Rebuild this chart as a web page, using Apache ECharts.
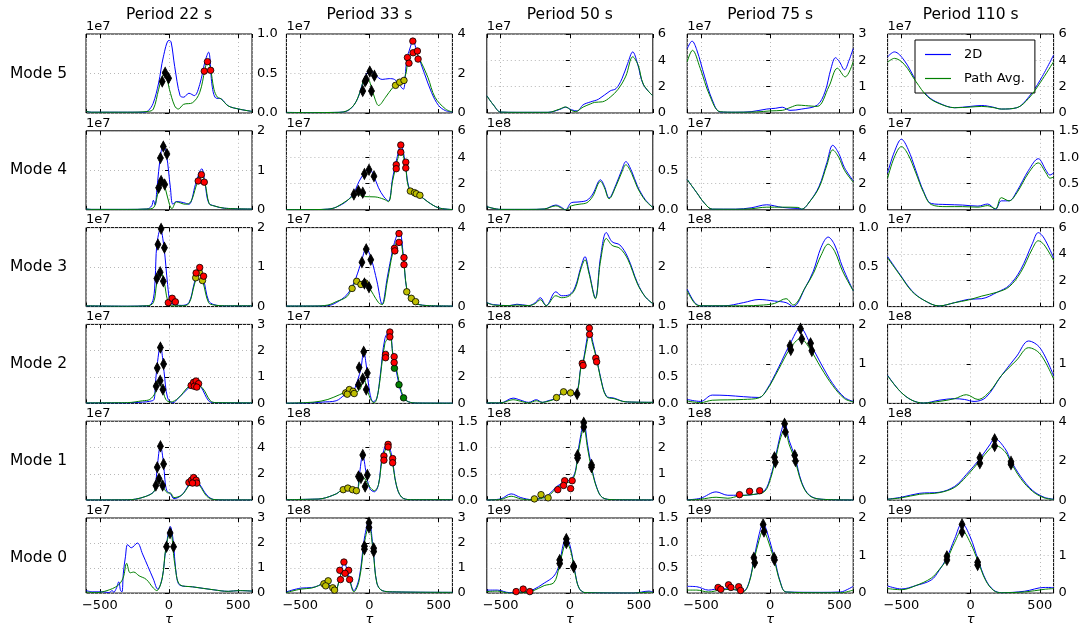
<!DOCTYPE html>
<html>
<head>
<meta charset="utf-8">
<script src="https://cdn.jsdelivr.net/npm/echarts@6/dist/echarts.min.js"></script>
<style>
  html, body { margin: 0; padding: 0; background: #fff; }
  #chart { width: 1083px; height: 627px; }
</style>
</head>
<body>
<div id="chart"></div>
<script>
// ---- labels and axes -------------------------------------------------------
const periods = ['Period 22 s', 'Period 33 s', 'Period 50 s', 'Period 75 s', 'Period 110 s'];
const modes = ['Mode 5', 'Mode 4', 'Mode 3', 'Mode 2', 'Mode 1', 'Mode 0'];
const xTicks = [-500, 0, 500];
// per row (mode 5 .. mode 0), per column (22 s .. 110 s)
const yMax  = [[1.0, 4, 6, 3, 6], [2, 6, 1.0, 6, 1.5], [2, 4, 4, 1.0, 6], [3, 6, 1.5, 2, 2], [6, 1.5, 3, 4, 4], [3, 3, 1.5, 2, 2]];
const yStep = [[0.5, 2, 2, 1, 2], [1, 2, 0.5, 2, 0.5], [1, 2, 2, 0.5, 2], [1, 2, 0.5, 1, 1], [2, 0.5, 1, 2, 2], [1, 1, 0.5, 1, 1]];
const yExp  = [[7, 7, 7, 7, 7], [7, 7, 8, 7, 7], [7, 7, 7, 8, 7], [7, 7, 8, 8, 8], [7, 8, 8, 8, 8], [7, 8, 9, 9, 9]];

// ---- Mode 5 ----------------------------------------------------------------
const m5_p22_2d = [[-600,0.02],[-560,0.01],[-300,0.01],[-180,0.01],[-150,0.03],[-115,0.12],[-75,0.38],[-41,0.71],[0,0.92],[15,0.9],[41,0.59],[80,0.22],[106,0.2],[144,0.25],[183,0.22],[222,0.36],[260,0.65],[286,0.77],[312,0.34],[338,0.19],[376,0.18],[428,0.09],[505,0.05],[600,0.02]];
const m5_p22_pa = [[-600,0.02],[-560,0.01],[-300,0.01],[-150,0.02],[-113,0.05],[-75,0.3],[-49,0.46],[-31,0.5],[-15,0.44],[3,0.3],[41,0.09],[67,0.05],[106,0.11],[170,0.13],[222,0.26],[260,0.55],[278,0.65],[299,0.57],[325,0.3],[350,0.2],[376,0.18],[428,0.09],[505,0.05],[600,0.02]];
const m5_p22_dia = [[-49,0.40],[-28,0.51],[-3,0.44]];
const m5_p22_red = [[255,0.53],[278,0.65],[301,0.54]];

const m5_p33_2d = [[-600,0.03],[-400,0.02],[-250,0.03],[-190,0.05],[-138,0.2],[-87,0.7],[-48,1.53],[-23,1.94],[3,2.16],[41,1.94],[92,1.7],[143,1.74],[181,1.7],[219,1.4],[245,1.2],[270,2.68],[296,3.34],[314,3.67],[347,3.0],[398,2.0],[449,1.04],[500,0.38],[550,0.12],[600,0.05]];
const m5_p33_pa = [[-600,0.03],[-400,0.02],[-250,0.03],[-190,0.05],[-112,0.4],[-61,1.2],[-36,1.7],[-10,1.7],[15,1.28],[41,0.7],[66,0.38],[117,0.8],[168,1.28],[219,1.6],[258,1.85],[283,2.77],[321,3.18],[360,2.77],[423,1.8],[474,0.8],[551,0.2],[600,0.05]];
const m5_p33_dia = [[-48,1.12],[-31,1.61],[-23,1.70],[3,2.1],[36,1.89],[15,1.12]];
const m5_p33_yel = [[189,1.4],[219,1.56],[250,1.65]];
const m5_p33_red = [[275,2.81],[286,2.52],[314,3.64],[316,3.05],[347,3.14],[352,2.73]];

const m5_p50_2d = [[-600,1.31],[-551,0.6],[-500,0.07],[-382,0.05],[-157,0.05],[-73,0.27],[-31,0.44],[11,0.25],[53,0.15],[96,0.62],[152,0.85],[208,1.05],[292,1.68],[334,1.85],[377,2.6],[419,3.78],[455,4.64],[489,3.78],[531,2.17],[600,1.31]];
const m5_p50_pa = [[-600,1.31],[-551,0.6],[-500,0.07],[-382,0.05],[-157,0.05],[-73,0.3],[-31,0.46],[11,0.2],[39,0.1],[96,0.45],[152,0.7],[180,0.81],[236,0.85],[292,1.2],[349,1.8],[405,2.8],[455,4.27],[495,3.6],[531,2.2],[600,1.3]];

const m5_p75_2d = [[-600,2.44],[-565,2.73],[-531,2.4],[-475,1.4],[-419,0.5],[-362,0.04],[-250,0.03],[-138,0.05],[-25,0.15],[40,0.18],[87,0.22],[143,0.1],[228,0.15],[340,0.3],[396,0.8],[440,1.7],[472,2.1],[500,1.95],[537,1.64],[570,2.0],[600,2.45]];
const m5_p75_pa = [[-600,1.95],[-562,2.38],[-506,1.7],[-440,0.7],[-362,0.05],[-250,0.03],[-100,0.04],[0,0.08],[87,0.1],[150,0.22],[200,0.3],[256,0.28],[340,0.25],[424,1.0],[486,1.7],[542,1.37],[600,1.95]];

const m5_p110_2d = [[-600,4.27],[-551,4.64],[-480,4.0],[-396,2.5],[-312,1.3],[-228,0.75],[-115,0.4],[-3,0.5],[81,0.57],[160,0.45],[222,0.3],[334,0.4],[419,1.2],[503,2.5],[600,4.4]];
const m5_p110_pa = [[-600,3.85],[-551,4.15],[-480,3.7],[-396,2.4],[-312,1.25],[-228,0.72],[-115,0.4],[-3,0.45],[81,0.5],[160,0.42],[222,0.3],[334,0.4],[419,1.1],[503,2.3],[600,3.9]];

// ---- Mode 4 ----------------------------------------------------------------
const m4_p22_2d = [[-600,0.02],[-560,0.01],[-300,0.01],[-160,0.02],[-125,0.1],[-113,0.24],[-100,0.12],[-88,0.5],[-75,0.97],[-57,1.47],[-41,1.64],[-18,1.39],[10,0.56],[28,0.14],[54,0.21],[106,0.18],[144,0.14],[191,0.64],[222,0.97],[237,1.04],[260,0.68],[286,0.18],[325,0.1],[402,0.04],[600,0.02]];
const m4_p22_pa = [[-600,0.02],[-560,0.01],[-300,0.01],[-160,0.02],[-113,0.05],[-88,0.3],[-67,0.68],[-49,0.77],[-28,0.56],[3,0.14],[21,0.03],[54,0.2],[119,0.14],[157,0.2],[196,0.6],[229,0.93],[260,0.68],[291,0.15],[325,0.1],[402,0.04],[600,0.02]];
const m4_p22_dia = [[-62,1.31],[-41,1.6],[-15,1.41],[-75,0.56],[-57,0.73],[-31,0.64]];
const m4_p22_red = [[211,0.73],[234,0.89],[255,0.70]];

const m4_p33_2d = [[-600,0.02],[-400,0.02],[-300,0.05],[-240,0.2],[-163,0.67],[-112,1.3],[-74,2.17],[-36,2.8],[-3,3.17],[28,2.67],[66,1.67],[105,0.98],[138,0.67],[168,2.42],[199,3.92],[227,4.92],[258,3.67],[283,1.8],[321,1.3],[360,1.12],[423,0.6],[500,0.15],[600,0.02]];
const m4_p33_pa = [[-600,0.02],[-400,0.02],[-300,0.05],[-240,0.2],[-163,0.7],[-87,1.17],[-36,1.0],[41,0.98],[105,0.8],[138,0.62],[168,2.2],[199,3.6],[227,4.55],[258,3.5],[283,1.7],[321,1.3],[360,1.1],[423,0.6],[500,0.15],[600,0.02]];
const m4_p33_dia = [[-112,1.17],[-79,1.42],[-48,1.3],[-36,2.72],[-3,3.05],[33,2.55]];
const m4_p33_red = [[194,3.42],[194,3.12],[227,4.92],[227,4.37],[263,3.62],[263,3.17]];
const m4_p33_yel = [[296,1.42],[326,1.3],[339,1.22],[365,1.1]];

const m4_p50_2d = [[-600,0.04],[-500,0.005],[-300,0.005],[-185,0.01],[-101,0.06],[-59,0.03],[-31,0.0],[11,0.09],[67,0.1],[124,0.12],[166,0.2],[222,0.38],[250,0.3],[284,0.15],[334,0.32],[377,0.51],[405,0.61],[447,0.49],[489,0.3],[545,0.13],[600,0.03]];
const m4_p50_pa = [[-600,0.04],[-500,0.005],[-300,0.005],[-185,0.01],[-101,0.05],[-59,0.02],[-31,0.0],[11,0.05],[67,0.07],[124,0.09],[166,0.17],[222,0.36],[250,0.28],[284,0.14],[334,0.3],[377,0.48],[405,0.57],[447,0.46],[489,0.28],[545,0.12],[600,0.03]];

const m4_p75_2d = [[-600,2.3],[-531,1.3],[-475,0.5],[-419,0.05],[-250,0.05],[-138,0.15],[-25,0.38],[87,0.18],[200,0.1],[228,0.05],[284,0.6],[354,1.8],[410,3.6],[452,4.9],[495,4.3],[537,3.2],[600,2.2]];
const m4_p75_pa = [[-600,2.3],[-531,1.3],[-475,0.5],[-419,0.05],[-250,0.04],[-138,0.08],[-25,0.2],[87,0.2],[200,0.18],[228,0.05],[284,0.6],[354,1.7],[410,3.4],[452,4.55],[495,4.0],[537,3.0],[600,2.1]];

const m4_p110_2d = [[-600,0.7],[-551,1.1],[-500,1.34],[-452,1.15],[-396,0.75],[-340,0.35],[-284,0.12],[-171,0.1],[-59,0.09],[53,0.07],[124,0.11],[180,0.01],[222,0.17],[278,0.17],[334,0.35],[419,0.75],[489,0.97],[545,0.75],[573,0.66],[600,0.7]];
const m4_p110_pa = [[-600,0.6],[-551,1.0],[-500,1.2],[-452,1.05],[-396,0.7],[-340,0.33],[-284,0.1],[-171,0.06],[-59,0.06],[53,0.05],[124,0.08],[180,0.02],[222,0.23],[278,0.17],[334,0.32],[419,0.7],[489,0.89],[545,0.7],[573,0.6],[600,0.62]];

// ---- Mode 3 ----------------------------------------------------------------
const m3_p22_2d = [[-600,0.02],[-300,0.01],[-160,0.02],[-139,0.03],[-113,0.2],[-100,0.7],[-88,1.56],[-62,1.97],[-36,1.49],[-10,0.56],[10,0.1],[41,0.05],[93,0.03],[144,0.1],[183,0.6],[216,0.97],[247,0.73],[286,0.15],[325,0.05],[400,0.02],[600,0.02]];
const m3_p22_pa = [[-600,0.02],[-300,0.01],[-160,0.02],[-113,0.1],[-88,0.6],[-62,0.89],[-36,0.64],[-10,0.15],[15,0.02],[93,0.02],[144,0.08],[183,0.55],[216,0.89],[247,0.6],[286,0.1],[325,0.04],[400,0.02],[600,0.02]];
const m3_p22_dia = [[-80,1.57],[-57,1.97],[-33,1.49],[-88,0.71],[-64,0.87],[-41,0.64]];
const m3_p22_red = [[-5,0.1],[23,0.21],[46,0.12],[196,0.85],[222,0.99],[250,0.77]];
const m3_p22_yel = [[193,0.73],[219,0.87],[242,0.66]];

const m3_p33_2d = [[-600,0.03],[-400,0.03],[-300,0.05],[-240,0.2],[-163,0.6],[-112,1.2],[-61,2.2],[-23,2.95],[15,2.37],[54,1.3],[92,0.12],[130,1.5],[168,2.87],[199,3.62],[219,3.78],[245,2.62],[270,0.87],[309,0.25],[347,0.12],[423,0.05],[600,0.03]];
const m3_p33_pa = [[-600,0.03],[-400,0.03],[-300,0.08],[-240,0.25],[-163,0.5],[-125,0.95],[-87,1.32],[-48,1.2],[-10,1.03],[28,0.62],[66,0.2],[92,0.1],[130,1.3],[168,2.7],[199,3.28],[219,3.37],[245,2.5],[270,0.9],[300,0.3],[347,0.12],[423,0.05],[600,0.03]];
const m3_p33_yel = [[-125,0.92],[-92,1.28],[-61,1.12],[-31,1.2],[270,0.75],[303,0.42],[334,0.25]];
const m3_p33_dia = [[-54,2.25],[-23,2.9],[10,2.37],[-36,1.17],[-3,0.98]];
const m3_p33_red = [[181,2.95],[184,2.82],[214,3.7],[214,3.25],[250,2.48],[250,2.12]];

const m3_p50_2d = [[-600,0.2],[-551,0.1],[-438,0.05],[-382,0.12],[-298,0.05],[-250,0.2],[-213,0.45],[-171,0.05],[-101,0.75],[-59,0.55],[-3,0.6],[39,1.0],[80,2.0],[110,2.53],[138,1.8],[185,0.45],[222,2.5],[264,3.75],[306,3.28],[362,3.12],[419,2.5],[489,1.2],[545,0.5],[600,0.15]];
const m3_p50_pa = [[-600,0.2],[-551,0.08],[-438,0.05],[-382,0.08],[-298,0.05],[-250,0.15],[-213,0.35],[-171,0.05],[-101,0.55],[-59,0.45],[-3,0.55],[39,0.9],[80,1.9],[110,2.37],[138,1.7],[185,0.4],[222,2.3],[264,3.45],[306,3.1],[362,2.95],[419,2.4],[489,1.15],[545,0.5],[600,0.15]];

const m3_p75_2d = [[-600,0.22],[-545,0.05],[-503,0.01],[-334,0.01],[-194,0.05],[-81,0.09],[31,0.07],[115,0.05],[166,0.0],[256,0.25],[312,0.45],[368,0.75],[419,0.88],[466,0.78],[523,0.5],[600,0.2]];
const m3_p75_pa = [[-600,0.2],[-545,0.04],[-503,0.01],[-334,0.01],[-194,0.01],[-50,0.02],[31,0.04],[115,0.1],[166,0.02],[256,0.25],[312,0.42],[368,0.65],[419,0.79],[466,0.7],[523,0.45],[600,0.2]];

const m3_p110_2d = [[-600,3.8],[-508,2.4],[-424,1.2],[-340,0.5],[-228,0.05],[-115,0.3],[-17,0.55],[81,0.6],[194,1.1],[278,1.6],[362,2.8],[447,4.8],[489,5.62],[531,5.2],[600,3.7]];
const m3_p110_pa = [[-600,3.7],[-508,2.35],[-424,1.15],[-340,0.5],[-228,0.05],[-115,0.3],[-17,0.5],[81,0.8],[194,1.1],[278,1.5],[362,2.6],[447,4.4],[489,5.0],[531,4.7],[600,3.5]];

// ---- Mode 2 ----------------------------------------------------------------
const m2_p22_2d = [[-600,0.02],[-300,0.02],[-191,0.05],[-139,0.08],[-108,0.15],[-100,0.6],[-88,1.34],[-62,2.19],[-36,1.21],[-10,0.21],[28,0.02],[67,0.2],[144,0.6],[191,0.84],[234,0.6],[286,0.1],[325,0.03],[600,0.02]];
const m2_p22_pa = [[-600,0.02],[-300,0.03],[-191,0.1],[-139,0.15],[-100,0.4],[-75,0.86],[-49,0.59],[-23,0.15],[10,0.05],[67,0.2],[144,0.65],[196,0.74],[247,0.55],[299,0.1],[340,0.03],[600,0.02]];
const m2_p22_dia = [[-85,1.34],[-62,2.12],[-39,1.5],[-93,0.65],[-64,0.86],[-44,0.53]];
const m2_p22_red = [[160,0.68],[178,0.8],[196,0.85],[214,0.75],[183,0.65],[201,0.62]];

const m2_p33_2d = [[-600,0.02],[-400,0.05],[-342,0.1],[-240,0.2],[-176,0.65],[-125,0.8],[-87,1.7],[-61,2.67],[-41,3.97],[-23,2.92],[3,0.8],[28,0.12],[54,0.4],[79,2.2],[112,4.92],[148,5.55],[168,3.92],[189,2.8],[214,1.42],[245,0.47],[283,0.12],[347,0.03],[600,0.02]];
const m2_p33_pa = [[-600,0.02],[-400,0.1],[-300,0.3],[-214,0.67],[-150,0.92],[-99,0.87],[-66,1.1],[-41,1.92],[-15,1.0],[15,0.2],[36,0.05],[66,1.0],[112,4.55],[148,5.05],[173,3.4],[194,2.72],[219,1.42],[250,0.42],[283,0.12],[347,0.03],[600,0.02]];
const m2_p33_yel = [[-171,0.8],[-145,1.05],[-118,0.92],[-160,0.7],[-110,0.75]];
const m2_p33_dia = [[-74,2.72],[-41,3.92],[-15,2.3],[-79,1.42],[-48,1.88],[-23,1.05]];
const m2_p33_red = [[117,3.72],[117,3.47],[148,5.42],[148,5.05],[179,3.55],[179,3.1]];
const m2_p33_grn = [[181,2.67],[214,1.42],[247,0.42]];

const m2_p50_2d = [[-600,0.01],[-500,0.01],[-410,0.1],[-354,0.06],[-298,0.02],[-242,0.07],[-199,0.02],[-157,0.05],[-101,0.1],[-45,0.22],[-3,0.22],[39,0.2],[60,0.3],[80,0.7],[96,0.78],[124,1.23],[143,1.43],[166,1.17],[194,0.86],[222,0.5],[264,0.14],[320,0.1],[405,0.03],[600,0.02]];
const m2_p50_pa = [[-600,0.01],[-500,0.01],[-410,0.07],[-354,0.04],[-298,0.01],[-242,0.05],[-199,0.02],[-157,0.04],[-101,0.09],[-45,0.2],[-3,0.2],[39,0.18],[60,0.28],[80,0.68],[96,0.76],[124,1.15],[143,1.33],[166,1.12],[194,0.84],[222,0.48],[264,0.13],[320,0.09],[405,0.03],[600,0.02]];
const m2_p50_yel = [[-96,0.11],[-45,0.22],[6,0.2]];
const m2_p50_dia = [[53,0.18]];
const m2_p50_red = [[90,0.76],[96,0.72],[141,1.43],[143,1.31],[188,0.86],[194,0.79]];

const m2_p75_2d = [[-600,0.1],[-503,0.05],[-419,0.21],[-306,0.2],[-194,0.17],[-81,0.15],[-25,0.35],[59,0.9],[143,1.5],[219,1.91],[284,1.55],[368,1.0],[452,0.5],[537,0.15],[600,0.05]];
const m2_p75_pa = [[-600,0.06],[-503,0.02],[-419,0.08],[-306,0.09],[-194,0.1],[-81,0.14],[-25,0.33],[59,0.85],[143,1.38],[219,1.64],[284,1.4],[368,0.9],[452,0.45],[537,0.12],[600,0.04]];
const m2_p75_dia = [[143,1.46],[149,1.35],[219,1.89],[228,1.63],[292,1.52],[301,1.33]];

const m2_p110_2d = [[-600,0.71],[-508,0.3],[-424,0.08],[-340,0.01],[-228,0.08],[-115,0.12],[-45,0.1],[25,0.05],[110,0.15],[222,0.7],[334,1.2],[419,1.58],[503,1.4],[600,0.7]];
const m2_p110_pa = [[-600,0.7],[-508,0.3],[-424,0.08],[-340,0.01],[-228,0.05],[-115,0.12],[-31,0.22],[53,0.1],[138,0.3],[222,0.7],[334,1.1],[419,1.41],[503,1.25],[600,0.62]];

// ---- Mode 1 ----------------------------------------------------------------
const m1_p22_2d = [[-600,0.02],[-300,0.03],[-242,0.08],[-165,0.3],[-113,0.6],[-100,0.9],[-85,2.5],[-62,4.17],[-39,2.75],[-30,1.6],[-15,0.7],[10,0.5],[36,0.12],[93,0.4],[144,1.2],[178,1.72],[222,1.2],[273,0.4],[325,0.05],[400,0.02],[600,0.02]];
const m1_p22_pa = [[-600,0.02],[-300,0.03],[-242,0.08],[-165,0.3],[-113,0.6],[-95,1.1],[-72,1.7],[-46,1.15],[-25,0.7],[-5,0.55],[10,0.55],[36,0.2],[93,0.4],[144,1.1],[178,1.5],[222,1.1],[273,0.3],[325,0.05],[400,0.02],[600,0.02]];
const m1_p22_dia = [[-85,2.5],[-62,4.1],[-39,2.75],[-95,1.12],[-72,1.62],[-46,1.12]];
const m1_p22_red = [[144,1.35],[162,1.52],[178,1.72],[196,1.52],[201,1.3],[170,1.3]];

const m1_p33_2d = [[-600,0.01],[-400,0.02],[-342,0.03],[-240,0.12],[-189,0.2],[-125,0.18],[-92,0.15],[-74,0.45],[-48,0.86],[-23,0.51],[3,0.22],[36,0.16],[66,0.3],[92,0.82],[130,1.09],[163,0.82],[194,0.29],[232,0.06],[296,0.01],[600,0.01]];
const m1_p33_pa = [[-600,0.01],[-400,0.02],[-342,0.03],[-240,0.12],[-189,0.2],[-125,0.18],[-92,0.17],[-61,0.45],[-36,0.42],[3,0.25],[36,0.18],[66,0.3],[92,0.75],[130,1.01],[163,0.75],[194,0.3],[232,0.06],[296,0.01],[600,0.01]];
const m1_p33_yel = [[-189,0.2],[-156,0.23],[-122,0.2],[-94,0.18]];
const m1_p33_dia = [[-79,0.45],[-48,0.86],[-15,0.48],[-61,0.42],[-31,0.26]];
const m1_p33_red = [[105,0.84],[105,0.76],[135,1.06],[135,1.01],[168,0.79],[168,0.71]];

const m1_p50_2d = [[-600,0.01],[-500,0.05],[-424,0.24],[-354,0.1],[-270,0.02],[-213,0.08],[-157,0.2],[-87,0.55],[-31,0.7],[11,0.8],[40,1.1],[56,1.71],[80,2.5],[101,2.99],[129,2.09],[157,1.27],[194,0.5],[236,0.1],[320,0.02],[600,0.01]];
const m1_p50_pa = [[-600,0.01],[-500,0.03],[-424,0.15],[-354,0.05],[-270,0.01],[-213,0.06],[-157,0.15],[-87,0.5],[-31,0.65],[11,0.72],[40,1.05],[56,1.6],[80,2.35],[101,2.78],[129,1.95],[157,1.2],[194,0.48],[236,0.1],[320,0.02],[600,0.01]];
const m1_p50_yel = [[-256,0.05],[-208,0.21],[-157,0.09]];
const m1_p50_red = [[-87,0.4],[-37,0.74],[-45,0.56],[6,0.44],[17,0.74]];
const m1_p50_dia = [[56,1.71],[56,1.6],[101,2.94],[101,2.78],[157,1.34],[157,1.25]];

const m1_p75_2d = [[-600,0.02],[-503,0.1],[-391,0.42],[-306,0.25],[-222,0.25],[-110,0.3],[-39,0.5],[3,1.2],[37,2.15],[73,3.3],[104,3.92],[138,3.0],[177,2.25],[228,0.9],[284,0.25],[368,0.05],[600,0.01]];
const m1_p75_pa = [[-600,0.01],[-503,0.05],[-391,0.15],[-306,0.1],[-222,0.22],[-110,0.3],[-39,0.45],[3,1.1],[37,2.03],[73,3.1],[104,3.58],[138,2.8],[177,2.08],[228,0.85],[284,0.23],[368,0.05],[600,0.01]];
const m1_p75_red = [[-222,0.28],[-149,0.45],[-76,0.48]];
const m1_p75_dia = [[31,2.17],[37,1.92],[104,3.87],[110,3.45],[177,2.28],[183,1.98]];

const m1_p110_2d = [[-600,0.05],[-500,0.15],[-368,0.35],[-228,0.4],[-115,0.7],[-31,1.3],[67,2.1],[138,2.8],[174,3.12],[250,2.6],[292,2.0],[362,1.2],[447,0.5],[531,0.15],[600,0.05]];
const m1_p110_pa = [[-600,0.05],[-500,0.12],[-368,0.3],[-228,0.38],[-115,0.65],[-31,1.2],[67,2.0],[138,2.6],[174,2.78],[250,2.45],[292,1.9],[362,1.1],[447,0.45],[531,0.12],[600,0.04]];
const m1_p110_dia = [[67,2.15],[67,1.87],[174,3.08],[174,2.75],[292,1.95],[292,1.82]];

// ---- Mode 0 ----------------------------------------------------------------
const m0_p22_2d = [[-600,0.1],[-551,0.05],[-474,0.05],[-435,0.02],[-410,0.1],[-400,0.03],[-380,0.2],[-363,0.45],[-350,0.1],[-340,0.05],[-330,0.8],[-315,1.45],[-299,1.94],[-273,1.81],[-229,2.0],[-191,1.56],[-152,1.06],[-113,0.56],[-82,0.16],[-49,0.6],[-23,1.75],[10,2.66],[28,2.2],[54,0.7],[80,0.31],[170,0.25],[325,0.13],[428,0.07],[505,0.1],[600,0.08]];
const m0_p22_pa = [[-600,0.04],[-526,0.02],[-448,0.1],[-371,0.3],[-332,0.6],[-306,1.19],[-281,0.81],[-255,0.84],[-216,0.69],[-165,0.55],[-113,0.2],[-88,0.1],[-49,0.6],[-23,1.8],[10,2.5],[41,1.2],[80,0.33],[170,0.25],[325,0.13],[428,0.07],[505,0.1],[600,0.08]];
const m0_p22_dia = [[-18,1.85],[8,2.4],[33,1.85]];

const m0_p33_2d = [[-600,0.05],[-495,0.2],[-418,0.22],[-367,0.3],[-316,0.5],[-278,0.2],[-252,0.05],[-214,0.6],[-184,1.25],[-150,0.7],[-112,0.1],[-74,0.6],[-36,2.2],[-3,2.91],[28,1.7],[54,0.4],[92,0.1],[168,0.05],[600,0.03]];
const m0_p33_pa = [[-600,0.02],[-495,0.16],[-418,0.2],[-367,0.3],[-316,0.4],[-278,0.25],[-252,0.02],[-189,0.87],[-150,0.6],[-112,0.05],[-74,0.5],[-36,2.0],[-3,2.71],[28,1.6],[54,0.4],[92,0.1],[168,0.05],[600,0.03]];
const m0_p33_yel = [[-329,0.37],[-298,0.49],[-316,0.29],[-265,0.21],[-252,0.12]];
const m0_p33_red = [[-214,0.91],[-184,1.24],[-150,0.91],[-209,0.54],[-176,0.79],[-143,0.54]];
const m0_p33_dia = [[-36,1.87],[-36,1.75],[-3,2.81],[-3,2.62],[31,1.79],[31,1.66]];

const m0_p50_2d = [[-600,0.06],[-523,0.06],[-438,0.01],[-326,0.02],[-270,0.06],[-185,0.2],[-115,0.34],[-79,0.55],[-45,1.0],[-25,1.11],[6,0.9],[39,0.4],[67,0.1],[110,0.01],[461,0.0],[573,0.04],[600,0.02]];
const m0_p50_pa = [[-600,0.03],[-523,0.04],[-438,0.0],[-326,0.01],[-270,0.04],[-185,0.15],[-115,0.21],[-79,0.5],[-45,0.9],[-25,1.0],[6,0.85],[39,0.38],[67,0.1],[110,0.01],[461,0.0],[573,0.02],[600,0.01]];
const m0_p50_red = [[-388,0.03],[-337,0.08],[-289,0.03]];
const m0_p50_dia = [[-73,0.66],[-73,0.59],[-25,1.08],[-25,1.0],[28,0.54],[28,0.52]];

const m0_p75_2d = [[-600,0.18],[-531,0.17],[-447,0.08],[-362,0.12],[-278,0.1],[-194,0.06],[-152,0.3],[-115,0.96],[-81,1.55],[-51,1.86],[-20,1.6],[31,0.92],[73,0.3],[115,0.03],[368,0.02],[509,0.03],[560,0.1],[600,0.18]];
const m0_p75_pa = [[-600,0.08],[-531,0.08],[-447,0.03],[-362,0.08],[-278,0.1],[-194,0.04],[-152,0.28],[-115,0.9],[-81,1.4],[-51,1.67],[-20,1.45],[31,0.85],[73,0.28],[115,0.03],[368,0.01],[509,0.01],[600,0.08]];
const m0_p75_red = [[-377,0.15],[-357,0.1],[-301,0.22],[-284,0.15],[-228,0.17],[-214,0.07]];
const m0_p75_dia = [[-118,0.94],[-112,0.81],[-51,1.83],[-45,1.64],[28,0.94],[31,0.88]];

const m0_p110_2d = [[-600,0.19],[-500,0.11],[-396,0.2],[-284,0.35],[-228,0.6],[-171,0.95],[-115,1.45],[-62,1.86],[-3,1.5],[53,0.9],[110,0.35],[166,0.08],[222,0.01],[391,0.05],[531,0.15],[600,0.15]];
const m0_p110_pa = [[-600,0.12],[-500,0.09],[-396,0.2],[-284,0.4],[-228,0.62],[-171,0.9],[-115,1.35],[-62,1.67],[-3,1.35],[53,0.85],[110,0.33],[166,0.07],[222,0.01],[391,0.03],[531,0.1],[600,0.12]];
const m0_p110_dia = [[-171,0.98],[-171,0.88],[-62,1.83],[-62,1.63],[51,0.82],[51,0.75]];

// ---- table of panels (row = mode 5 .. 0, column = period) --------------------
const panels = [
  [ {d2: m5_p22_2d, pa: m5_p22_pa, dia: m5_p22_dia, red: m5_p22_red},
    {d2: m5_p33_2d, pa: m5_p33_pa, dia: m5_p33_dia, yel: m5_p33_yel, red: m5_p33_red},
    {d2: m5_p50_2d, pa: m5_p50_pa},
    {d2: m5_p75_2d, pa: m5_p75_pa},
    {d2: m5_p110_2d, pa: m5_p110_pa} ],
  [ {d2: m4_p22_2d, pa: m4_p22_pa, dia: m4_p22_dia, red: m4_p22_red},
    {d2: m4_p33_2d, pa: m4_p33_pa, dia: m4_p33_dia, red: m4_p33_red, yel: m4_p33_yel},
    {d2: m4_p50_2d, pa: m4_p50_pa},
    {d2: m4_p75_2d, pa: m4_p75_pa},
    {d2: m4_p110_2d, pa: m4_p110_pa} ],
  [ {d2: m3_p22_2d, pa: m3_p22_pa, dia: m3_p22_dia, yel: m3_p22_yel, red: m3_p22_red},
    {d2: m3_p33_2d, pa: m3_p33_pa, dia: m3_p33_dia, yel: m3_p33_yel, red: m3_p33_red},
    {d2: m3_p50_2d, pa: m3_p50_pa},
    {d2: m3_p75_2d, pa: m3_p75_pa},
    {d2: m3_p110_2d, pa: m3_p110_pa} ],
  [ {d2: m2_p22_2d, pa: m2_p22_pa, dia: m2_p22_dia, red: m2_p22_red},
    {d2: m2_p33_2d, pa: m2_p33_pa, dia: m2_p33_dia, yel: m2_p33_yel, red: m2_p33_red, grn: m2_p33_grn},
    {d2: m2_p50_2d, pa: m2_p50_pa, dia: m2_p50_dia, yel: m2_p50_yel, red: m2_p50_red},
    {d2: m2_p75_2d, pa: m2_p75_pa, dia: m2_p75_dia},
    {d2: m2_p110_2d, pa: m2_p110_pa} ],
  [ {d2: m1_p22_2d, pa: m1_p22_pa, dia: m1_p22_dia, red: m1_p22_red},
    {d2: m1_p33_2d, pa: m1_p33_pa, dia: m1_p33_dia, yel: m1_p33_yel, red: m1_p33_red},
    {d2: m1_p50_2d, pa: m1_p50_pa, dia: m1_p50_dia, yel: m1_p50_yel, red: m1_p50_red},
    {d2: m1_p75_2d, pa: m1_p75_pa, dia: m1_p75_dia, red: m1_p75_red},
    {d2: m1_p110_2d, pa: m1_p110_pa, dia: m1_p110_dia} ],
  [ {d2: m0_p22_2d, pa: m0_p22_pa, dia: m0_p22_dia},
    {d2: m0_p33_2d, pa: m0_p33_pa, dia: m0_p33_dia, yel: m0_p33_yel, red: m0_p33_red},
    {d2: m0_p50_2d, pa: m0_p50_pa, dia: m0_p50_dia, red: m0_p50_red},
    {d2: m0_p75_2d, pa: m0_p75_pa, dia: m0_p75_dia, red: m0_p75_red},
    {d2: m0_p110_2d, pa: m0_p110_pa, dia: m0_p110_dia} ]
];

// ---- layout ----------------------------------------------------------------
const FONT = '"DejaVu Sans", sans-serif';
const LEFT0 = 86, COL_PITCH = 200.4, PANEL_W = 166;
const TOP0 = 34, ROW_PITCH = 96.8, PANEL_H = 79;
const BLUE = '#0000ff', GREEN = '#008000';

const grids = [], xAxes = [], yAxes = [], series = [], graphics = [];
const nRows = modes.length, nCols = periods.length;

const markStyles = {
  dia: {symbol: 'diamond', size: [6, 11], color: '#000000'},
  red: {symbol: 'circle', size: 6.5, color: '#ff0000'},
  yel: {symbol: 'circle', size: 6.5, color: '#bfbf00'},
  grn: {symbol: 'circle', size: 6.5, color: '#008000'}
};

for (let r = 0; r < nRows; r++) {
  for (let c = 0; c < nCols; c++) {
    const k = r * nCols + c;
    const left = LEFT0 + c * COL_PITCH;
    const top = TOP0 + r * ROW_PITCH;
    const isBottom = r === nRows - 1;
    const step = yStep[r][c];

    grids.push({left: left, top: top, width: PANEL_W, height: PANEL_H,
      show: true, borderColor: '#000', borderWidth: 1, backgroundColor: '#fff', containLabel: false});

    const gridLine = {show: true, lineStyle: {color: '#b8b8b8', type: [1, 3], width: 1}};
    xAxes.push({
      gridIndex: k, type: 'value', position: 'bottom', min: -600, max: 600, splitNumber: 2,
      axisLine: {show: false},
      axisTick: {show: true, inside: true, length: 4, lineStyle: {color: '#000'}},
      axisLabel: {show: isBottom, margin: 6, fontSize: 13, fontFamily: FONT, color: '#000',
        formatter: v => xTicks.indexOf(v) < 0 ? '' : (v < 0 ? '\u2212' + Math.abs(v) : String(v))},
      splitLine: gridLine,
      name: isBottom ? '\u03c4' : '', nameLocation: 'middle', nameGap: 19,
      nameTextStyle: {fontSize: 13, fontStyle: 'italic', fontFamily: FONT, color: '#000'}
    });
    xAxes.push({
      gridIndex: k, type: 'value', position: 'top', min: -600, max: 600, splitNumber: 2,
      axisLine: {show: false},
      axisTick: {show: true, inside: true, length: 4, lineStyle: {color: '#000'}},
      axisLabel: {show: false}, splitLine: {show: false}
    });
    yAxes.push({
      gridIndex: k, type: 'value', position: 'right', min: 0, max: yMax[r][c], interval: step,
      axisLine: {show: false},
      axisTick: {show: true, inside: true, length: 4, lineStyle: {color: '#000'}},
      axisLabel: {show: true, margin: 5, fontSize: 13, fontFamily: FONT, color: '#000',
        formatter: v => step < 1 ? v.toFixed(1) : String(Math.round(v))},
      splitLine: gridLine
    });

    const p = panels[r][c];
    series.push({
      type: 'line', name: '2D', xAxisIndex: 2 * k, yAxisIndex: k, data: p.d2,
      smooth: 0.35, symbol: 'none', showSymbol: false, silent: true, animation: false,
      lineStyle: {color: BLUE, width: 1}, itemStyle: {color: BLUE}, z: 3
    });
    series.push({
      type: 'line', name: 'Path Avg.', xAxisIndex: 2 * k, yAxisIndex: k, data: p.pa,
      smooth: 0.35, symbol: 'none', showSymbol: false, silent: true, animation: false,
      lineStyle: {color: GREEN, width: 1}, itemStyle: {color: GREEN}, z: 4
    });
    ['yel', 'grn', 'red', 'dia'].forEach(key => {
      if (!p[key]) return;
      const ms = markStyles[key];
      series.push({
        type: 'scatter', xAxisIndex: 2 * k, yAxisIndex: k, data: p[key],
        symbol: ms.symbol, symbolSize: ms.size, silent: true, animation: false, z: 5,
        itemStyle: {color: ms.color, borderColor: '#000', borderWidth: 0.8, opacity: 1}
      });
    });

    // exponent of the value axis, written above the top-left corner
    graphics.push({type: 'text', x: left, y: top - 1,
      style: {text: '1e' + yExp[r][c], font: '13px ' + FONT, fill: '#000',
        textAlign: 'left', textVerticalAlign: 'bottom', align: 'left', verticalAlign: 'bottom'}});
  }
}

periods.forEach((t, c) => {
  graphics.push({type: 'text', x: LEFT0 + c * COL_PITCH + PANEL_W / 2, y: 15,
    style: {text: t, font: '15.5px ' + FONT, fill: '#000',
      textAlign: 'center', textVerticalAlign: 'middle', align: 'center', verticalAlign: 'middle'}});
});
modes.forEach((t, r) => {
  graphics.push({type: 'text', x: 10, y: TOP0 + r * ROW_PITCH + PANEL_H / 2,
    style: {text: t, font: '15.5px ' + FONT, fill: '#000',
      textAlign: 'left', textVerticalAlign: 'middle', align: 'left', verticalAlign: 'middle'}});
});

const chart = echarts.init(document.getElementById('chart'), null, {renderer: 'canvas'});
chart.setOption({
  animation: false,
  backgroundColor: '#fff',
  grid: grids,
  xAxis: xAxes,
  yAxis: yAxes,
  series: series,
  graphic: graphics,
  legend: {
    data: ['2D', 'Path Avg.'], orient: 'vertical', left: 915, top: 40,
    backgroundColor: '#fff', borderColor: '#000', borderWidth: 1, borderRadius: 0,
    padding: [8, 10, 8, 10], itemGap: 11, itemWidth: 26, itemHeight: 1.2, icon: 'rect',
    selectedMode: false,
    textStyle: {fontSize: 13, fontFamily: FONT, color: '#000', padding: [0, 0, 0, 8]}
  }
});
</script>
</body>
</html>
